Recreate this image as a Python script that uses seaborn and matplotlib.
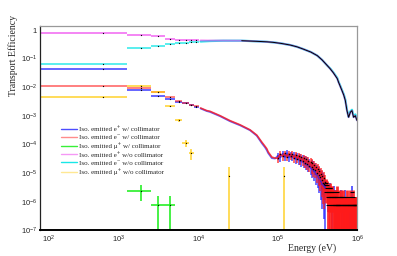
import numpy as np
import matplotlib
matplotlib.use('Agg')
import matplotlib.pyplot as plt
import matplotlib.ticker as mticker
import matplotlib.transforms as mtransforms
from matplotlib.lines import Line2D
import seaborn as sns

# binning of the histograms (linear bins, drawn on a log axis)
bin_width = 1250.0
e_min, e_max = 1e2, 1e6
y_min, y_max = 1e-7, 1.38
unit_w = 7.4e-7   # weight of one entry, e+/e- with collimator
unit_tail = 3.0e-6  # spread used for the dense noisy tail

# first bins, one value per bin (bin index starts at 1)
first_idx = [1, 2, 3, 4, 5, 6, 7, 8]
pos_w_bins = [0.043, 0.0079, 0.0050, 0.0037, 0.0031, 0.0027, 0.0023, 0.0020]
ele_w_bins = [0.011, 0.0095, 0.0066, 0.0044, 0.0033, 0.0028, 0.0024, 0.0021]
pos_wo_bins = [0.74, 0.65, 0.62, 0.47, 0.45, 0.43, 0.43, 0.42]
ele_wo_bins = [0.064, 0.22, 0.277, 0.32, 0.34, 0.355, 0.365, 0.375]

# muons
mu_w_idx = [2, 3, 4]
mu_w_val = [2.4e-6, 7.8e-7, 7.8e-7]
mu_wo_idx = [1, 2, 3, 4, 5, 6, 7, 20, 97]
mu_wo_val = [0.0044, 0.011, 0.0068, 0.0021, 0.00068, 1.1e-4, 4.9e-5, 8.2e-6, 8.2e-6]

# e+/e- with collimator, 1e4 - 1e5 eV
w_curve_e = [10625, 12700, 13970, 18670, 24950, 33400, 44600, 54200, 59700,
             62700, 69000, 72600, 75300, 83900, 92300]
ele_w_curve = [1.85e-3, 1.5e-3, 1.42e-3, 1.0e-3, 6.7e-4, 4.8e-4, 3.2e-4, 2.1e-4,
               1.45e-4, 1.2e-4, 8.5e-5, 7.0e-5, 5.5e-5, 3.6e-5, 3.3e-5]
pos_w_curve = [1.78e-3, 1.45e-3, 1.35e-3, 9.6e-4, 6.4e-4, 4.6e-4, 3.1e-4, 2.0e-4,
               1.35e-4, 1.1e-4, 7.8e-5, 6.2e-5, 5.0e-5, 3.3e-5, 3.2e-5]

# e+/e- with collimator, noisy tail 1e5 - 4e5 eV
tail_e = np.arange(100000, 400000, 7500)
ele_w_tail = [3.3e-5, 4.6e-5, 3.8e-5, 4.8e-5, 3.6e-5, 4.7e-5, 3.9e-5, 4.5e-5, 3.3e-5, 4.4e-5,
              3.2e-5, 4.0e-5, 2.8e-5, 3.6e-5, 2.6e-5, 3.3e-5, 2.3e-5, 3.0e-5, 2.1e-5, 2.7e-5,
              1.8e-5, 2.4e-5, 1.6e-5, 2.2e-5, 1.4e-5, 1.9e-5, 1.3e-5, 1.6e-5, 1.0e-5, 1.4e-5,
              8.5e-6, 1.2e-5, 7.0e-6, 9.5e-6, 5.5e-6, 8.0e-6, 4.5e-6, 6.5e-6, 4.0e-6, 5.0e-6]
pos_w_tail = [4.0e-5, 3.5e-5, 4.7e-5, 3.6e-5, 4.9e-5, 3.5e-5, 4.4e-5, 3.6e-5, 4.2e-5, 3.1e-5,
              3.9e-5, 2.9e-5, 3.5e-5, 2.5e-5, 3.2e-5, 2.3e-5, 2.9e-5, 2.0e-5, 2.6e-5, 1.8e-5,
              2.3e-5, 1.5e-5, 2.1e-5, 1.3e-5, 1.8e-5, 1.1e-5, 1.5e-5, 9.0e-6, 1.3e-5, 8.0e-6,
              1.1e-5, 6.5e-6, 9.0e-6, 5.0e-6, 7.5e-6, 4.0e-6, 6.0e-6, 3.5e-6, 5.0e-6, 3.0e-6]

# sparse bins above 4e5 eV
ele_sparse_e = [400000, 408000, 418000, 425000, 432000, 440000, 447000, 455000, 462000,
                470000, 478000, 487000, 495000, 503000, 512000, 521000, 530000, 540000,
                548000, 557000, 566000, 578000, 590000, 601000, 612000, 626000, 640000,
                654000, 668000, 684000, 700000, 717000, 735000, 752000, 770000, 787000,
                805000, 822000, 840000, 857000, 875000, 892000, 910000, 927000, 945000,
                962000, 980000, 995000]
ele_sparse_v = [4.4e-6, 2.2e-6, 3.7e-6, 7.4e-7, 2.2e-6, 1.5e-6, 3.0e-6, 7.4e-7, 2.2e-6,
                1.5e-6, 7.4e-7, 2.2e-6, 1.5e-6, 7.4e-7, 1.5e-6, 7.4e-7, 7.4e-7, 1.5e-6,
                7.4e-7, 2.2e-6, 7.4e-7, 7.4e-7, 1.5e-6, 7.4e-7, 7.4e-7, 1.5e-6, 7.4e-7,
                7.4e-7, 1.5e-6, 7.4e-7, 7.4e-7, 7.4e-7, 1.5e-6, 7.4e-7, 7.4e-7, 7.4e-7,
                1.5e-6, 7.4e-7, 7.4e-7, 7.4e-7, 7.4e-7, 1.5e-6, 7.4e-7, 7.4e-7, 7.4e-7,
                7.4e-7, 7.4e-7, 7.4e-7]
pos_sparse_e = [404000, 412000, 428000, 444000, 452000, 468000, 483000, 505000, 520000,
                536000, 552000, 575000, 596000, 620000, 648000, 676000, 708000, 744000,
                778000, 812000, 848000, 866000, 900000, 936000, 970000]
pos_sparse_v = [3.7e-6, 3.0e-6, 1.5e-6, 2.2e-6, 3.0e-6, 1.5e-6, 7.4e-7, 2.2e-6, 1.5e-6,
                7.4e-7, 1.5e-6, 7.4e-7, 7.4e-7, 1.5e-6, 7.4e-7, 7.4e-7, 1.5e-6, 7.4e-7,
                7.4e-7, 7.4e-7, 7.4e-7, 2.2e-6, 7.4e-7, 7.4e-7, 7.4e-7]

# e+/e- without collimator, above 1e4 eV
wo_curve_e = [10625, 14000, 20400, 35000, 54700, 73000, 87000, 110000, 143000, 175000,
              208000, 260000, 313000, 360000, 418000, 456000, 500000, 527000, 559000,
              581000, 610000, 641000, 675000, 706000, 741000, 777000, 800000, 817000,
              857000, 880000, 898000, 944000, 970000, 991000]
pos_wo_curve = [0.42, 0.415, 0.414, 0.41, 0.39, 0.375, 0.36, 0.33, 0.29, 0.25, 0.21, 0.165,
                0.124, 0.088, 0.056, 0.043, 0.031, 0.025, 0.0196, 0.0146, 0.0105, 0.0075,
                0.0052, 0.0034, 0.0015, 0.00088, 0.0011, 0.00132, 0.0015, 0.0011, 0.00088,
                0.001, 0.0008, 0.00068]
ele_wo_curve = [0.385, 0.40, 0.41, 0.41, 0.39, 0.375, 0.36, 0.33, 0.29, 0.25, 0.21, 0.165,
                0.124, 0.088, 0.056, 0.044, 0.032, 0.026, 0.0205, 0.015, 0.011, 0.0078,
                0.0055, 0.0036, 0.0016, 0.0009, 0.0012, 0.0014, 0.0016, 0.0012, 0.0009,
                0.0011, 0.0009, 0.0007]

labels = ['Iso. emitted e⁺ w/ collimator',
          'Iso. emitted e⁻ w/ collimator',
          'Iso. emitted μ⁺ w/ collimator',
          'Iso. emitted e⁺ w/o collimator',
          'Iso. emitted e⁻ w/o collimator',
          'Iso. emitted μ⁺ w/o collimator']

x_decades = [2, 3, 4, 5, 6]
y_decades = [-7, -6, -5, -4, -3, -2, -1, 0]

c_blue = '#2020ff'
c_red = '#ff1a1a'
c_green = '#22ee22'
c_mag = '#ee44ee'
c_cyan = '#00e5e5'
c_yel = '#ffcc11'

sns.set_style('white')
plt.rcParams['font.family'] = ['Liberation Serif', 'DejaVu Serif']
plt.rcParams['mathtext.fontset'] = 'custom'
plt.rcParams['mathtext.rm'] = 'Liberation Serif'
plt.rcParams['mathtext.it'] = 'Liberation Serif:italic'
plt.rcParams['mathtext.sf'] = 'Liberation Sans'

fig = plt.figure(figsize=(3.97, 2.56), dpi=100)
ax = fig.add_axes([0.1, 0.1, 0.8, 0.8])
ax.set_xscale('log')
ax.set_yscale('log')
ax.set_xlim(e_min, e_max)
ax.set_ylim(y_min, y_max)


def poisson_err(vals, unit):
    vals = np.asarray(vals)
    err = np.sqrt(vals * unit)
    low = np.minimum(err, vals - 1e-12)
    return [low, err]


def draw_bins(idx, vals, errs, color, alpha=0.75):
    idx = np.asarray(idx, dtype=float)
    vals = np.asarray(vals)
    left = np.maximum((idx - 1) * bin_width, e_min)
    right = idx * bin_width
    centre = (idx - 0.5) * bin_width
    ax.errorbar(centre, vals, xerr=[centre - left, right - centre], yerr=errs,
                fmt='none', ecolor=color, alpha=alpha, elinewidth=1.3)
    ax.plot(centre, vals, ls='none', marker='o', ms=0.9, color='black', mew=0)


# w/o collimator (drawn first, below)
draw_bins(first_idx, pos_wo_bins, None, c_mag, 0.7)
draw_bins(first_idx, ele_wo_bins, None, c_cyan, 0.7)
sns.lineplot(x=wo_curve_e, y=ele_wo_curve, color=c_cyan, lw=1.6, alpha=0.9,
             estimator=None, sort=False, ax=ax)
sns.lineplot(x=wo_curve_e, y=pos_wo_curve, color=c_mag, lw=1.4, alpha=0.6,
             estimator=None, sort=False, ax=ax)
sns.lineplot(x=wo_curve_e[3:], y=pos_wo_curve[3:], color='black', lw=0.7,
             estimator=None, sort=False, ax=ax)

# w/ collimator
draw_bins(first_idx, pos_w_bins, None, c_blue, 0.75)
draw_bins(first_idx, ele_w_bins, None, c_red, 0.6)
ax.errorbar(tail_e, pos_w_tail, yerr=poisson_err(pos_w_tail, unit_tail), fmt='none',
            ecolor=c_blue, alpha=0.7, elinewidth=1.3)
ax.errorbar(tail_e, ele_w_tail, yerr=poisson_err(ele_w_tail, unit_tail), fmt='none',
            ecolor=c_red, alpha=0.7, elinewidth=1.3)
ax.errorbar(pos_sparse_e, pos_sparse_v, yerr=poisson_err(pos_sparse_v, unit_w), fmt='none',
            ecolor=c_blue, alpha=0.85, elinewidth=1.2)
ax.errorbar(ele_sparse_e, ele_sparse_v, yerr=poisson_err(ele_sparse_v, unit_w), fmt='none',
            ecolor=c_red, alpha=0.9, elinewidth=2.0)
sns.lineplot(x=list(w_curve_e) + list(tail_e), y=pos_w_curve + pos_w_tail, color=c_blue,
             lw=1.3, alpha=0.7, estimator=None, sort=False, ax=ax)
sns.lineplot(x=list(w_curve_e) + list(tail_e), y=ele_w_curve + ele_w_tail, color=c_red,
             lw=1.2, alpha=0.8, estimator=None, sort=False, ax=ax)
ax.plot(tail_e, ele_w_tail, ls='none', marker='o', ms=1.1, color='black', mew=0)
ax.plot(ele_sparse_e, ele_sparse_v, ls='none', marker='_', ms=3.5, color='black', mew=0.8)
ax.plot(pos_sparse_e, pos_sparse_v, ls='none', marker='_', ms=3.5, color='black', mew=0.8)

# muons
draw_bins(mu_wo_idx, mu_wo_val, poisson_err(mu_wo_val, 8.2e-6), c_yel, 0.75)
draw_bins(mu_w_idx, mu_w_val, poisson_err(mu_w_val, 7.8e-7), c_green, 0.9)

# axes styling (ROOT-like)
for side in ['top', 'right']:
    ax.spines[side].set_color('#999999')
    ax.spines[side].set_linewidth(0.9)
ax.spines['left'].set_color('#222222')
ax.spines['left'].set_linewidth(0.9)
ax.spines['bottom'].set_color('black')
ax.spines['bottom'].set_linewidth(1.4)
ax.set_xlabel('')
ax.set_ylabel('')

# fixed ticks, only inside the visible range
x_major = [10.0 ** d for d in x_decades]
y_major = [10.0 ** d for d in y_decades]
x_minor = [m * 10.0 ** d for d in x_decades[:-1] for m in range(2, 10)]
y_minor = [m * 10.0 ** d for d in y_decades[:-1] for m in range(2, 10)]
ax.xaxis.set_major_locator(mticker.FixedLocator(x_major))
ax.xaxis.set_minor_locator(mticker.FixedLocator(x_minor))
ax.yaxis.set_major_locator(mticker.FixedLocator(y_major))
ax.yaxis.set_minor_locator(mticker.FixedLocator(y_minor))
ax.xaxis.set_minor_formatter(mticker.NullFormatter())
ax.yaxis.set_minor_formatter(mticker.NullFormatter())


def log_label(v, pos):
    p = int(round(np.log10(v)))
    if p == 0:
        return r'$\mathsf{1}$'
    return r'$\mathsf{10^{%d}}$' % p


ax.xaxis.set_major_formatter(mticker.FuncFormatter(log_label))
ax.yaxis.set_major_formatter(mticker.FuncFormatter(log_label))
ax.tick_params(axis='x', which='major', direction='in', length=4.5, width=0.8,
               color='#555555', labelsize=5.5, pad=2.5, top=False)
ax.tick_params(axis='x', which='minor', direction='in', length=2.3, width=0.7,
               color='#777777', top=False)
ax.tick_params(axis='y', which='major', direction='in', length=6.5, width=0.8,
               color='#555555', labelsize=5.5, pad=1.5, right=False)
ax.tick_params(axis='y', which='minor', direction='in', length=3.2, width=0.7,
               color='#777777', right=False)

fig.text(336 / 397, 1 - 248 / 256, 'Energy (eV)', ha='right', va='center', fontsize=7)
fig.text(13 / 397, 1 - 15 / 256, 'Transport Efficiency', ha='center', va='top',
         rotation=90, fontsize=7)

handles = [Line2D([], [], color=c, lw=1.0, alpha=a) for c, a in
           [(c_blue, 0.8), (c_red, 0.5), (c_green, 0.9), (c_mag, 0.55), (c_cyan, 0.9), (c_yel, 0.45)]]
ax.legend(handles, labels, loc='upper left', bbox_to_anchor=(0.066, 0.51), frameon=False,
          fontsize=5.0, handlelength=2.4, handletextpad=0.25, labelspacing=0.33,
          borderpad=0, borderaxespad=0)

# first x label sits to the right of its tick, as in the original
fig.canvas.draw()
shift = mtransforms.ScaledTranslation(2 / 100, 0, fig.dpi_scale_trans)
for tick in ax.xaxis.get_major_ticks():
    if np.isclose(tick.get_loc(), e_min):
        tick.label1.set_horizontalalignment('left')
        tick.label1.set_transform(tick.label1.get_transform() + shift)

fig.savefig('out.png', dpi=100)
